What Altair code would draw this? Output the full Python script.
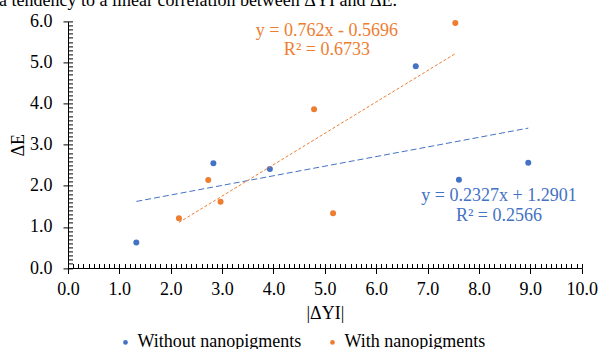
import altair as alt
import pandas as pd

# ---------------- data ----------------
series_names = ["Without nanopigments", "With nanopigments"]
without_x = [1.33, 2.83, 3.93, 6.77, 7.61, 8.96]
without_y = [0.62, 2.55, 2.41, 4.91, 2.15, 2.56]
with_x = [2.16, 2.73, 2.97, 4.79, 5.16, 7.54]
with_y = [1.21, 2.14, 1.61, 3.86, 1.33, 5.96]
x_ticks = [0, 1, 2, 3, 4, 5, 6, 7, 8, 9, 10]
y_ticks = [0, 1, 2, 3, 4, 5, 6]
eq_without = ["y = 0.2327x + 1.2901", "R² = 0.2566"]
eq_with = ["y = 0.762x - 0.5696", "R² = 0.6733"]
title_text = "a tendency to a linear correlation between ΔYI and ΔE."
x_title = "|ΔYI|"
y_title = "ΔE"

# ---------------- styling ----------------
FONT = "Liberation Serif"
colors = ["#4472C4", "#ED7D31"]
minor_x = [round(i * 0.1, 1) for i in range(101)]
minor_y = [round(i * 0.1, 1) for i in range(61)]

df = pd.DataFrame({
    "x": without_x + with_x,
    "y": without_y + with_y,
    "series": [series_names[0]] * len(without_x) + [series_names[1]] * len(with_x),
})

xscale = alt.Scale(domain=[0, 10], nice=False, zero=False)
yscale = alt.Scale(domain=[0, 6], nice=False, zero=False)
cscale = alt.Scale(domain=series_names, range=colors)

common_axis = dict(grid=False, domainColor="black", tickColor="black",
                   labelColor="black", titleColor="black", labelFont=FONT,
                   titleFont=FONT, labelFontSize=18, titleFontSize=18,
                   titleFontWeight="normal", domainWidth=1, tickWidth=1,
                   labelFlush=False, labelOverlap=False)

base = alt.Chart(df)

points = base.mark_circle(size=36, opacity=1).encode(
    x=alt.X("x:Q", scale=xscale,
            axis=alt.Axis(values=x_ticks, format=".1f", title=x_title, orient="bottom",
                          tickSize=5.5, labelPadding=7, titlePadding=6, **common_axis)),
    y=alt.Y("y:Q", scale=yscale,
            axis=alt.Axis(values=y_ticks, format=".1f", title=y_title, orient="left",
                          tickSize=5, labelPadding=11, titlePadding=2, **common_axis)),
    color=alt.Color("series:N", scale=cscale,
                    legend=alt.Legend(title=None, orient="none", direction="horizontal",
                                      legendX=48.5, legendY=312, padding=0,
                                      labelFont=FONT, labelFontSize=18, labelColor="black",
                                      labelLimit=0,
                                      symbolType="circle", symbolSize=22, symbolStrokeWidth=0,
                                      labelOffset=3, columnPadding=22)),
)

minor_common = dict(labels=False, title=None, grid=False, domain=False,
                    tickColor="black", tickWidth=1)

trend = base.transform_regression("x", "y", groupby=["series"]).mark_line(strokeWidth=1).encode(
    x=alt.X("x:Q", scale=xscale,
            axis=alt.Axis(values=minor_x, orient="bottom", tickSize=4.5, offset=-4.5, **minor_common)),
    y=alt.Y("y:Q", scale=yscale,
            axis=alt.Axis(values=minor_y, orient="left", tickSize=4.5, offset=-4.5, **minor_common)),
    color=alt.Color("series:N", scale=cscale, legend=None),
    strokeDash=alt.StrokeDash("series:N",
                              scale=alt.Scale(domain=series_names, range=[[6, 3], [3, 2]]),
                              legend=None),
)


def label(txt, x, y, color):
    return alt.Chart(pd.DataFrame({"t": [txt]})).mark_text(
        font=FONT, fontSize=18, color=color, align="center", baseline="middle"
    ).encode(
        x=alt.XDatum(x, type="quantitative", scale=xscale, axis=None),
        y=alt.YDatum(y, type="quantitative", scale=yscale, axis=None),
        text="t:N",
    )


labels = [
    label(eq_with[0], 5.04, 5.77, colors[1]),
    label(eq_with[1], 5.04, 5.30, colors[1]),
    label(eq_without[0], 8.39, 1.757, colors[0]),
    label(eq_without[1], 8.39, 1.26, colors[0]),
]

title_layer = alt.Chart(pd.DataFrame({"t": [title_text]})).mark_text(
    font=FONT, fontSize=18, color="black", align="left", baseline="alphabetic"
).encode(x=alt.value(-69), y=alt.value(-15), text="t:N")

chart = alt.layer(points, trend, *labels, title_layer).resolve_axis(
    x="independent", y="independent"
).properties(
    width=513.7, height=246.6,
    autosize=alt.AutoSizeParams(type="none"),
    padding={"left": 68, "top": 21.4, "right": 17.3, "bottom": 81},
).configure_view(stroke=None).configure_axis(labelFont=FONT, titleFont=FONT)

chart.save("out.html", embed_options={"renderer": "svg", "actions": False})
